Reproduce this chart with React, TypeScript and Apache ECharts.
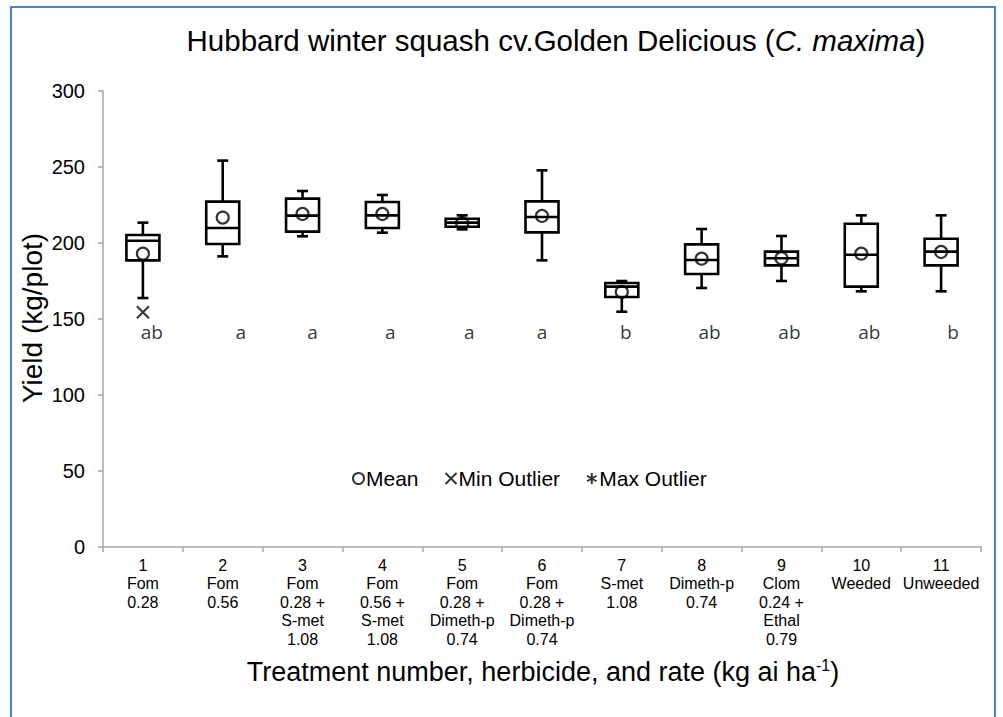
import React, { useEffect, useRef } from "react";
import * as echarts from "echarts";

const categories = [
  "1\nFom\n0.28",
  "2\nFom\n0.56",
  "3\nFom\n0.28 +\nS-met\n1.08",
  "4\nFom\n0.56 +\nS-met\n1.08",
  "5\nFom\n0.28 +\nDimeth-p\n0.74",
  "6\nFom\n0.28 +\nDimeth-p\n0.74",
  "7\nS-met\n1.08",
  "8\nDimeth-p\n0.74",
  "9\nClom\n0.24 +\nEthal\n0.79",
  "10\nWeeded",
  "11\nUnweeded",
];

const mins = [163.8, 191.2, 204.4, 206.8, 209.0, 188.6, 154.8, 170.4, 175.0, 168.2, 168.2];
const q1s = [188.6, 199.3, 207.5, 209.9, 210.7, 207.0, 164.5, 179.6, 185.3, 171.3, 185.3];
const medians = [201.5, 209.9, 218.0, 218.2, 213.4, 217.1, 171.3, 188.8, 190.0, 192.3, 194.3];
const q3s = [205.3, 227.2, 229.2, 227.0, 216.0, 227.4, 173.7, 199.1, 194.3, 212.7, 202.8];
const maxs = [213.4, 254.2, 234.2, 231.6, 218.2, 247.8, 175.0, 209.2, 204.6, 218.2, 218.2];
const means = [193.0, 216.7, 219.1, 219.1, 213.0, 217.8, 167.8, 189.7, 190.0, 193.0, 194.1];

const minOutliers: [number, number][] = [[0, 154.4]];
const maxOutliers: [number, number][] = [];

const letters = ["ab", "a", "a", "a", "a", "a", "b", "ab", "ab", "ab", "b"];
const letterLevel = 141.4;
const letterOffsets = [9, 18, 10, 8, 7, 0, 4, 8, 8, 8, 12];

const yTicks = { min: 0, max: 300, interval: 50 };

const FONT = "'Liberation Sans', Arial, sans-serif";
const AXIS_COLOR = "#a6a6a6";

export default function App() {
  const ref = useRef<HTMLDivElement>(null);

  useEffect(() => {
    if (!ref.current) return;
    const chart = echarts.init(ref.current, null, { renderer: "svg" });

    const boxData = categories.map((_, i) => [i, mins[i], q1s[i], medians[i], q3s[i], maxs[i]]);

    const option: any = {
      animation: false,
      backgroundColor: "#fff",
      grid: { left: 103, right: 22, top: 91, bottom: 170, containLabel: false },
      xAxis: {
        type: "category",
        data: categories,
        boundaryGap: true,
        axisLine: { lineStyle: { color: AXIS_COLOR, width: 1.5 } },
        axisTick: { show: true, length: 5, alignWithLabel: false, lineStyle: { color: AXIS_COLOR, width: 1.5 } },
        axisLabel: {
          interval: 0,
          margin: 9,
          fontFamily: FONT,
          fontSize: 16,
          lineHeight: 18.5,
          color: "#000",
          align: "center",
        },
        splitLine: { show: false },
      },
      yAxis: {
        type: "value",
        min: yTicks.min,
        max: yTicks.max,
        interval: yTicks.interval,
        axisLine: { show: true, lineStyle: { color: AXIS_COLOR, width: 1.5 } },
        axisTick: { show: true, length: 5, lineStyle: { color: AXIS_COLOR, width: 1.5 } },
        axisLabel: { fontFamily: FONT, fontSize: 20, color: "#000", margin: 18 },
        splitLine: { show: false },
      },
      legend: {
        data: ["Mean", "Min Outlier", "Max Outlier"],
        left: 347,
        top: 463,
        itemWidth: 11,
        itemHeight: 11,
        itemGap: 26,
        textStyle: { fontFamily: FONT, fontSize: 21, color: "#000", padding: [0, 0, 0, -3] },
      },
      graphic: [
        {
          type: "rect",
          shape: { x: 11, y: 7, width: 984, height: 800 },
          style: { fill: "none", stroke: "#4f81bd", lineWidth: 2 },
          silent: true,
        },
        {
          type: "text",
          x: 556,
          y: 40,
          style: {
            text: "{n|Hubbard winter squash cv.Golden Delicious (}{i|C. maxima}{n|)}",
            align: "center",
            verticalAlign: "middle",
            rich: {
              n: { fontFamily: FONT, fontSize: 29.5, fill: "#000", fontStyle: "normal" },
              i: { fontFamily: FONT, fontSize: 29.5, fill: "#000", fontStyle: "italic" },
            },
          },
        },
        {
          type: "text",
          x: 32,
          y: 318,
          rotation: Math.PI / 2,
          style: {
            text: "Yield (kg/plot)",
            align: "center",
            verticalAlign: "middle",
            fontFamily: FONT,
            fontSize: 28,
            fill: "#000",
          },
        },
        {
          type: "text",
          x: 543,
          y: 672,
          style: {
            text: "{n|Treatment number, herbicide, and rate (kg ai ha}{s|-1}{n|)}",
            align: "center",
            verticalAlign: "middle",
            rich: {
              n: { fontFamily: FONT, fontSize: 27, fill: "#000", lineHeight: 30 },
              s: { fontFamily: FONT, fontSize: 16, fill: "#000", verticalAlign: "top", lineHeight: 16 },
            },
          },
        },
      ],
      series: [
        {
          type: "custom",
          name: "Box",
          data: boxData,
          encode: { x: 0, y: [1, 2, 3, 4, 5] },
          z: 2,
          renderItem: (params: any, api: any) => {
            const idx = api.value(0);
            const pMin = api.coord([idx, api.value(1)]);
            const pQ1 = api.coord([idx, api.value(2)]);
            const pMed = api.coord([idx, api.value(3)]);
            const pQ3 = api.coord([idx, api.value(4)]);
            const pMax = api.coord([idx, api.value(5)]);
            const cx = pMin[0];
            const hw = 16.5;
            const cw = 5.5;
            const st = { stroke: "#000", lineWidth: 2.6, fill: "none" };
            return {
              type: "group",
              children: [
                { type: "line", shape: { x1: cx, y1: pQ3[1], x2: cx, y2: pMax[1] }, style: st },
                { type: "line", shape: { x1: cx - cw, y1: pMax[1], x2: cx + cw, y2: pMax[1] }, style: st },
                { type: "line", shape: { x1: cx, y1: pQ1[1], x2: cx, y2: pMin[1] }, style: st },
                { type: "line", shape: { x1: cx - cw, y1: pMin[1], x2: cx + cw, y2: pMin[1] }, style: st },
                {
                  type: "rect",
                  shape: { x: cx - hw, y: pQ3[1], width: hw * 2, height: pQ1[1] - pQ3[1] },
                  style: { stroke: "#000", lineWidth: 2.6, fill: "#fff" },
                },
                { type: "line", shape: { x1: cx - hw, y1: pMed[1], x2: cx + hw, y2: pMed[1] }, style: st },
              ],
            };
          },
        },
        {
          type: "scatter",
          name: "Mean",
          data: means.map((v, i) => [i, v]),
          symbol: "circle",
          symbolSize: 12,
          z: 5,
          itemStyle: { color: "rgba(255,255,255,0)", borderColor: "#000", borderWidth: 2.2 },
        },
        {
          type: "scatter",
          name: "Min Outlier",
          data: minOutliers,
          symbol: "path://M0,0L10,10M10,0L0,10",
          symbolSize: 12,
          z: 5,
          itemStyle: { color: "rgba(255,255,255,0)", borderColor: "#000", borderWidth: 2 },
        },
        {
          type: "scatter",
          name: "Max Outlier",
          data: maxOutliers,
          symbol: "path://M5,0L5,10M0.7,2.5L9.3,7.5M9.3,2.5L0.7,7.5",
          symbolSize: 12,
          z: 5,
          itemStyle: { color: "rgba(255,255,255,0)", borderColor: "#000", borderWidth: 2.6 },
        },
        {
          type: "scatter",
          name: "Letters",
          silent: true,
          symbolSize: 0,
          data: letters.map((l, i) => ({
            value: [i, letterLevel],
            label: { offset: [letterOffsets[i], 0] },
          })),
          label: {
            show: true,
            position: "inside",
            formatter: (p: any) => letters[p.dataIndex],
            fontFamily: "'Open Sans', 'Noto Sans', sans-serif",
            fontSize: 19,
            color: "#000",
          },
          itemStyle: { color: "rgba(0,0,0,0)" },
        },
      ],
    };

    chart.setOption(option);
    return () => chart.dispose();
  }, []);

  return (
    <div
      ref={ref}
      style={{ position: "absolute", left: 0, top: 0, width: 1003, height: 717, background: "#fff" }}
    />
  );
}
